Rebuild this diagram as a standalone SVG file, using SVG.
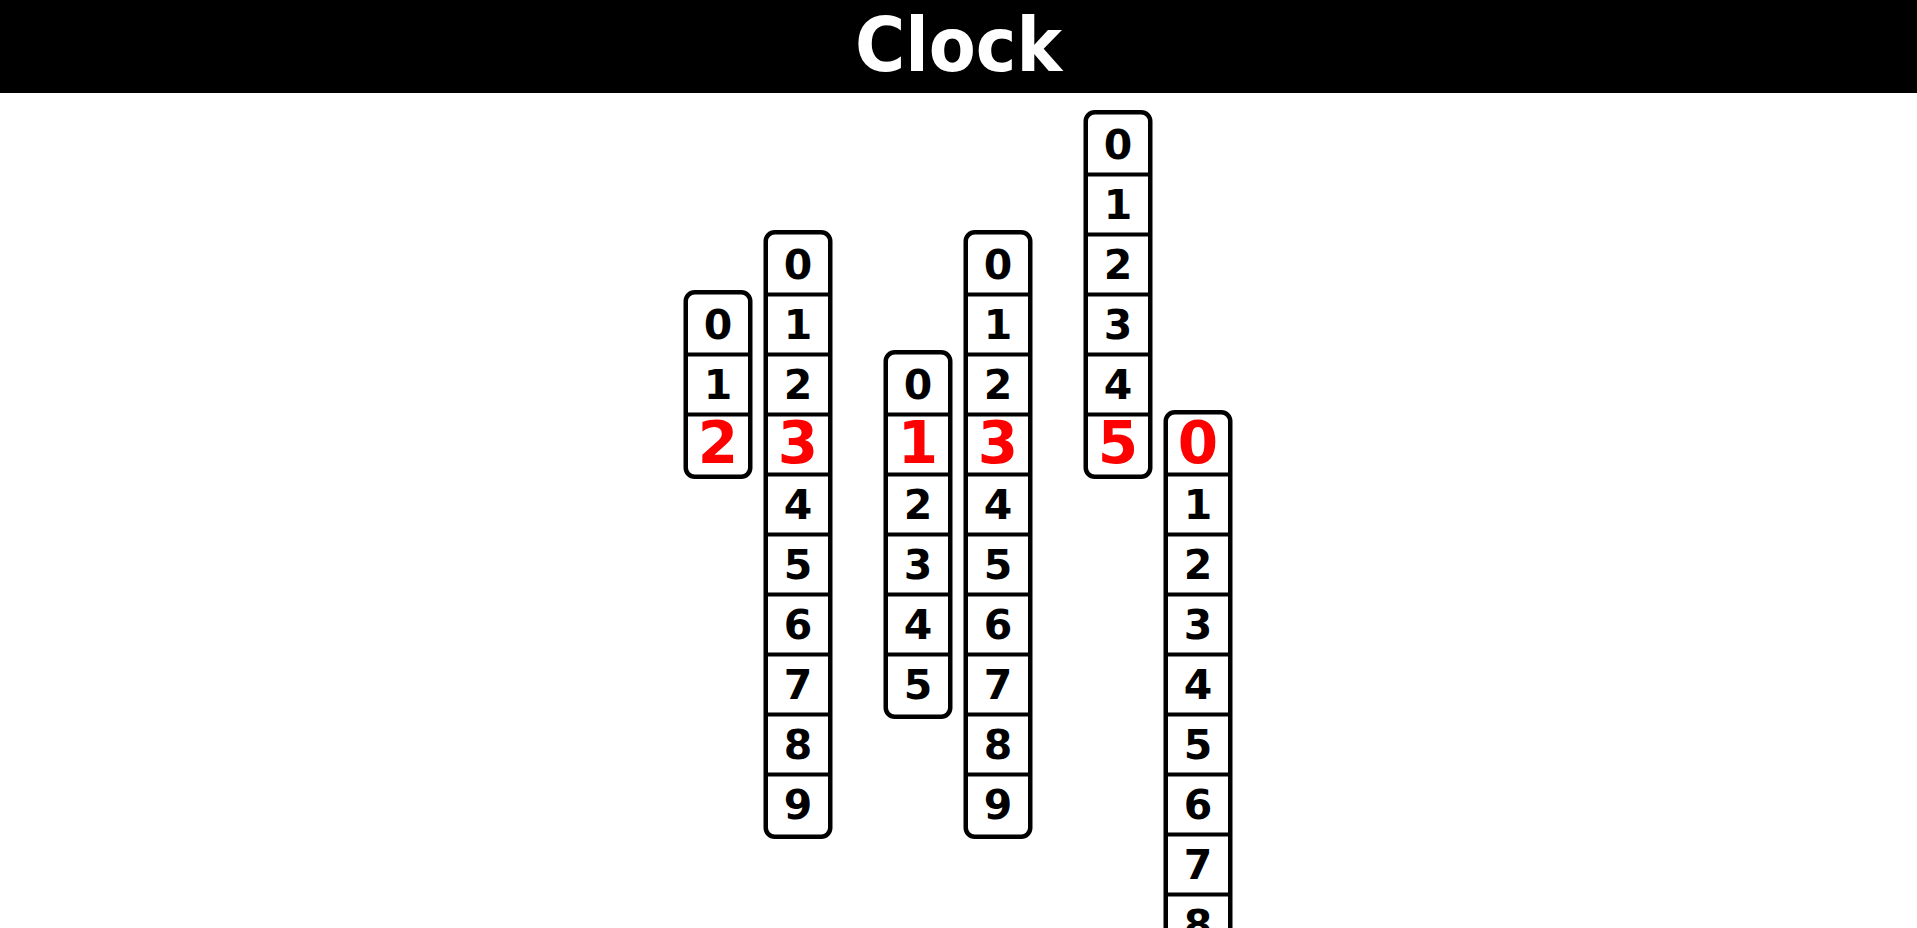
<svg xmlns="http://www.w3.org/2000/svg" width="1917" height="928" viewBox="0 0 1917 928">
<style>
.col{fill:#fff;stroke:#000;stroke-width:4.5}
.sep{stroke:#000;stroke-width:4}
.d{font-family:"DejaVu Sans","Liberation Sans",sans-serif;font-weight:bold;font-size:41px;text-anchor:middle;fill:#000}
.r{font-size:58px;fill:#ff0000}
.title{font-family:"DejaVu Sans","Liberation Sans",sans-serif;font-weight:bold;font-size:74px;text-anchor:middle;fill:#fff}
</style>
<rect width="1917" height="928" fill="#fff"/>
<g id="header">
<rect x="0" y="0" width="1917" height="93" fill="#000"/>
<text class="title" x="958.5" y="71" textLength="207" lengthAdjust="spacingAndGlyphs">Clock</text>
</g>
<g id="hours-tens">
<rect class="col" x="685.75" y="292.25" width="64.5" height="184.5" rx="9"/>
<line class="sep" x1="688" y1="354.5" x2="748" y2="354.5"/>
<line class="sep" x1="688" y1="414.5" x2="748" y2="414.5"/>
<text class="d" x="718" y="338.5">0</text>
<text class="d" x="718" y="398.5">1</text>
<text class="d r" x="718" y="463">2</text>
</g>
<g id="hours-ones">
<rect class="col" x="765.75" y="232.25" width="64.5" height="604.5" rx="9"/>
<line class="sep" x1="768" y1="294.5" x2="828" y2="294.5"/>
<line class="sep" x1="768" y1="354.5" x2="828" y2="354.5"/>
<line class="sep" x1="768" y1="414.5" x2="828" y2="414.5"/>
<line class="sep" x1="768" y1="474.5" x2="828" y2="474.5"/>
<line class="sep" x1="768" y1="534.5" x2="828" y2="534.5"/>
<line class="sep" x1="768" y1="594.5" x2="828" y2="594.5"/>
<line class="sep" x1="768" y1="654.5" x2="828" y2="654.5"/>
<line class="sep" x1="768" y1="714.5" x2="828" y2="714.5"/>
<line class="sep" x1="768" y1="774.5" x2="828" y2="774.5"/>
<text class="d" x="798" y="278.5">0</text>
<text class="d" x="798" y="338.5">1</text>
<text class="d" x="798" y="398.5">2</text>
<text class="d r" x="798" y="463">3</text>
<text class="d" x="798" y="518.5">4</text>
<text class="d" x="798" y="578.5">5</text>
<text class="d" x="798" y="638.5">6</text>
<text class="d" x="798" y="698.5">7</text>
<text class="d" x="798" y="758.5">8</text>
<text class="d" x="798" y="818.5">9</text>
</g>
<g id="minutes-tens">
<rect class="col" x="885.75" y="352.25" width="64.5" height="364.5" rx="9"/>
<line class="sep" x1="888" y1="414.5" x2="948" y2="414.5"/>
<line class="sep" x1="888" y1="474.5" x2="948" y2="474.5"/>
<line class="sep" x1="888" y1="534.5" x2="948" y2="534.5"/>
<line class="sep" x1="888" y1="594.5" x2="948" y2="594.5"/>
<line class="sep" x1="888" y1="654.5" x2="948" y2="654.5"/>
<text class="d" x="918" y="398.5">0</text>
<text class="d r" x="918" y="463">1</text>
<text class="d" x="918" y="518.5">2</text>
<text class="d" x="918" y="578.5">3</text>
<text class="d" x="918" y="638.5">4</text>
<text class="d" x="918" y="698.5">5</text>
</g>
<g id="minutes-ones">
<rect class="col" x="965.75" y="232.25" width="64.5" height="604.5" rx="9"/>
<line class="sep" x1="968" y1="294.5" x2="1028" y2="294.5"/>
<line class="sep" x1="968" y1="354.5" x2="1028" y2="354.5"/>
<line class="sep" x1="968" y1="414.5" x2="1028" y2="414.5"/>
<line class="sep" x1="968" y1="474.5" x2="1028" y2="474.5"/>
<line class="sep" x1="968" y1="534.5" x2="1028" y2="534.5"/>
<line class="sep" x1="968" y1="594.5" x2="1028" y2="594.5"/>
<line class="sep" x1="968" y1="654.5" x2="1028" y2="654.5"/>
<line class="sep" x1="968" y1="714.5" x2="1028" y2="714.5"/>
<line class="sep" x1="968" y1="774.5" x2="1028" y2="774.5"/>
<text class="d" x="998" y="278.5">0</text>
<text class="d" x="998" y="338.5">1</text>
<text class="d" x="998" y="398.5">2</text>
<text class="d r" x="998" y="463">3</text>
<text class="d" x="998" y="518.5">4</text>
<text class="d" x="998" y="578.5">5</text>
<text class="d" x="998" y="638.5">6</text>
<text class="d" x="998" y="698.5">7</text>
<text class="d" x="998" y="758.5">8</text>
<text class="d" x="998" y="818.5">9</text>
</g>
<g id="seconds-tens">
<rect class="col" x="1085.75" y="112.25" width="64.5" height="364.5" rx="9"/>
<line class="sep" x1="1088" y1="174.5" x2="1148" y2="174.5"/>
<line class="sep" x1="1088" y1="234.5" x2="1148" y2="234.5"/>
<line class="sep" x1="1088" y1="294.5" x2="1148" y2="294.5"/>
<line class="sep" x1="1088" y1="354.5" x2="1148" y2="354.5"/>
<line class="sep" x1="1088" y1="414.5" x2="1148" y2="414.5"/>
<text class="d" x="1118" y="158.5">0</text>
<text class="d" x="1118" y="218.5">1</text>
<text class="d" x="1118" y="278.5">2</text>
<text class="d" x="1118" y="338.5">3</text>
<text class="d" x="1118" y="398.5">4</text>
<text class="d r" x="1118" y="463">5</text>
</g>
<g id="seconds-ones">
<rect class="col" x="1165.75" y="412.25" width="64.5" height="604.5" rx="9"/>
<line class="sep" x1="1168" y1="474.5" x2="1228" y2="474.5"/>
<line class="sep" x1="1168" y1="534.5" x2="1228" y2="534.5"/>
<line class="sep" x1="1168" y1="594.5" x2="1228" y2="594.5"/>
<line class="sep" x1="1168" y1="654.5" x2="1228" y2="654.5"/>
<line class="sep" x1="1168" y1="714.5" x2="1228" y2="714.5"/>
<line class="sep" x1="1168" y1="774.5" x2="1228" y2="774.5"/>
<line class="sep" x1="1168" y1="834.5" x2="1228" y2="834.5"/>
<line class="sep" x1="1168" y1="894.5" x2="1228" y2="894.5"/>
<text class="d r" x="1198" y="463">0</text>
<text class="d" x="1198" y="518.5">1</text>
<text class="d" x="1198" y="578.5">2</text>
<text class="d" x="1198" y="638.5">3</text>
<text class="d" x="1198" y="698.5">4</text>
<text class="d" x="1198" y="758.5">5</text>
<text class="d" x="1198" y="818.5">6</text>
<text class="d" x="1198" y="878.5">7</text>
<text class="d" x="1198" y="938.5">8</text>
</g>
</svg>
